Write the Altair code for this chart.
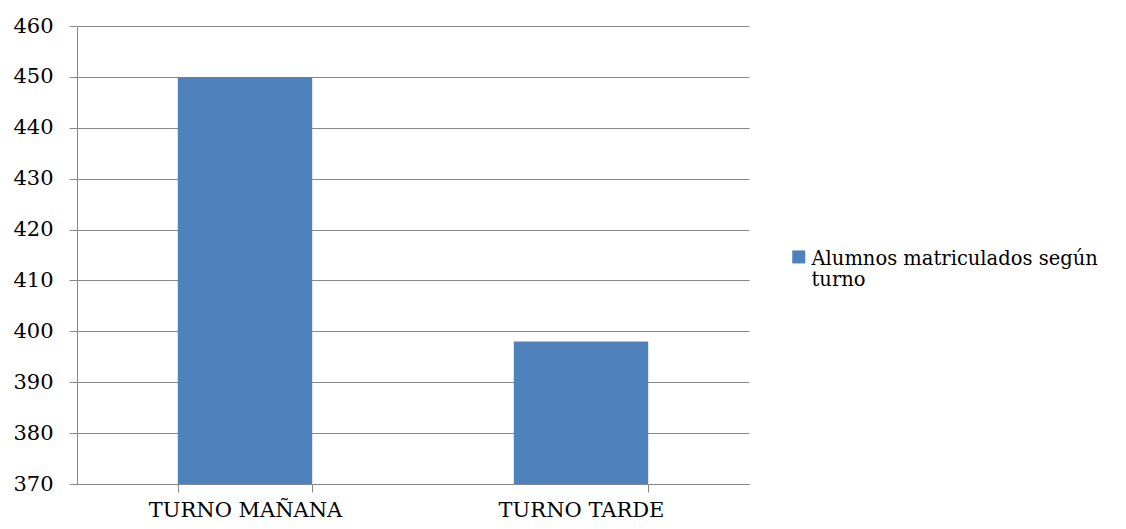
import altair as alt
import pandas as pd

categories = ["TURNO MAÑANA", "TURNO TARDE"]
values = [450, 398]
series_name = "Alumnos matriculados según turno"
y_ticks = [370, 380, 390, 400, 410, 420, 430, 440, 450, 460]

df = pd.DataFrame({
    "turno": categories,
    "alumnos": values,
    "serie": [series_name] * len(categories),
})

FONT = "DejaVu Serif"
FS = 21
GRAY = "#898989"
BLUE = "#4F81BD"

chart = alt.Chart(df).mark_bar(color=BLUE).encode(
    x=alt.X(
        "turno:N",
        sort=categories,
        title=None,
        scale=alt.Scale(paddingInner=0.6, paddingOuter=0.3),
        axis=alt.Axis(
            labelAngle=0, tickBand="extent", tickSize=8, tickColor=GRAY,
            domainColor=GRAY, labelFont=FONT, labelFontSize=FS,
            labelColor="black", labelPadding=7, labelLimit=400, grid=False,
        ),
    ),
    y=alt.Y(
        "alumnos:Q",
        scale=alt.Scale(domain=[370, 460], zero=False, nice=False),
        axis=alt.Axis(
            values=y_ticks, title=None, tickSize=8, tickColor=GRAY,
            domainColor=GRAY, gridColor=GRAY, grid=True, labelFont=FONT,
            labelFontSize=FS, labelColor="black", labelPadding=16,
        ),
    ),
    y2=alt.datum(370),
    color=alt.Color(
        "serie:N",
        scale=alt.Scale(range=[BLUE]),
        legend=alt.Legend(
            title=None, orient="none", legendX=712, legendY=229,
            symbolType="M-1,-2.2H1V-0.2H-1Z", symbolSize=169,
            symbolStrokeWidth=0, labelFont=FONT, labelFontSize=19.5,
            labelColor="black", labelLimit=400, labelOffset=3,
            labelBaseline="alphabetic", padding=0,
            labelExpr="[slice(datum.label, 0, 26), slice(datum.label, 27)]",
        ),
    ),
).properties(
    width=672,
    height=458,
    autosize=alt.AutoSizeParams(type="none"),
    padding={"left": 69, "top": 18, "right": 369, "bottom": 37},
).configure_view(stroke=None)

chart.save("out.html", embed_options={"renderer": "svg", "actions": False})
